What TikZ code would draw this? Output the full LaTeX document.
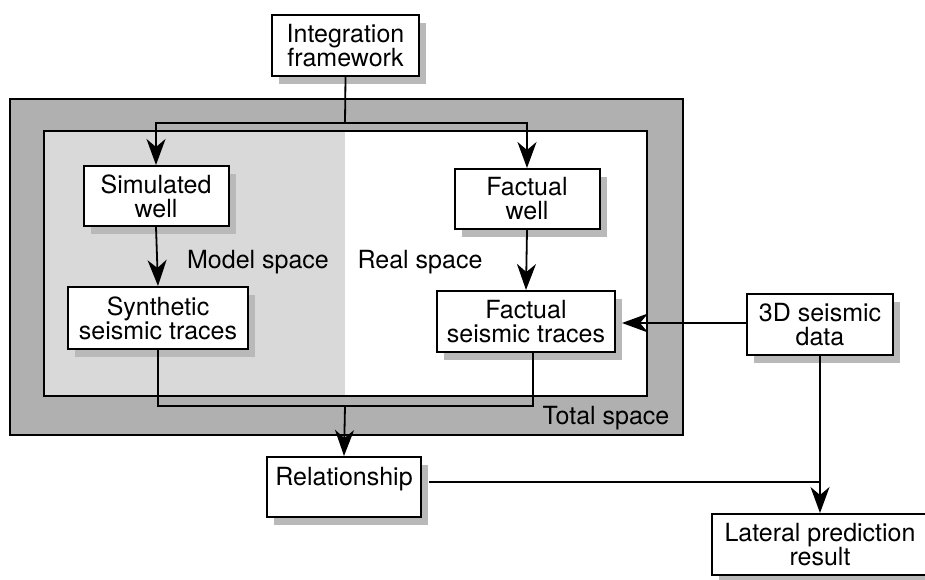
\documentclass[tikz,border=0pt]{standalone}
\usepackage{fontspec}
\setmainfont{TeX Gyre Heros}
\usetikzlibrary{arrows.meta,shadows}
\begin{document}
\begin{tikzpicture}[x=1pt,y=-1pt,
  box/.style={draw=black,line width=2pt,fill=white,align=center,inner sep=0pt,
    font=\fontsize{25}{24}\selectfont,
    drop shadow={shadow xshift=7pt,shadow yshift=-8pt,fill=gray!55,opacity=1}},
  conn/.style={line width=1.8pt},
  arr/.style={conn,-{Stealth[length=26pt,width=19pt,inset=8pt]}},
  lbl/.style={font=\fontsize{25}{24}\selectfont}]
\useasboundingbox (0,0) rectangle (925,580);
% total space
\draw[fill=gray!62,line width=1.2pt] (10,99) rectangle (683,435);
\fill[gray!30] (44,131) rectangle (345,396);
\fill[white] (345,131) rectangle (647,396);
\draw[line width=2pt] (44,131) rectangle (647,396);
% labels
\node[lbl] (model) at (258,262) {Model space};
\node[lbl] (real) at (420,262) {Real space};
\node[lbl] (total) at (606,418) {Total space};
% boxes
\node[box,minimum width=147pt,minimum height=61pt] (integ) at (345.5,45.5) {Integration\\framework};
\node[box,minimum width=145pt,minimum height=60pt] (sim) at (156,196) {Simulated\\well};
\node[box,minimum width=145pt,minimum height=60pt] (fwell) at (527,199) {Factual\\well};
\node[box,minimum width=180pt,minimum height=62pt] (synth) at (158,318) {Synthetic\\seismic traces};
\node[box,minimum width=178pt,minimum height=61pt] (fseis) at (526,321.5) {Factual\\seismic traces};
\node[box,minimum width=146pt,minimum height=61pt] (s3d) at (820,324.5) {3D seismic\\data};
\node[box,minimum width=154pt,minimum height=60pt] (rel) at (344,487) {Relationship\\[-2pt]\mbox{}};
\node[box,minimum width=216pt,minimum height=61pt] (lat) at (820,544.5) {Lateral prediction\\result};
% connectors
\coordinate (split) at (345,123);
\coordinate (merge) at (345,406);
\draw[conn] (integ.south) -- (split);
\draw[arr] (split) -| (sim.north);
\draw[arr] (split) -| (fwell.north);
\draw[arr] (sim.south) -- (synth.north);
\draw[arr] (fwell.south) -- (fseis.north);
\draw[conn] (synth.south) |- (merge);
\draw[conn] ([xshift=7pt]fseis.south) |- (merge);
\draw[arr] (merge) -- (rel.north);
\draw[arr] (s3d.west |- 0,323) -- ([xshift=6pt]fseis.east |- 0,323);
\draw[arr] (s3d.south) -- (lat.north);
\draw[conn] ([xshift=7pt,yshift=5pt]rel.east) -| (s3d.south |- 0,482);
\end{tikzpicture}
\end{document}
